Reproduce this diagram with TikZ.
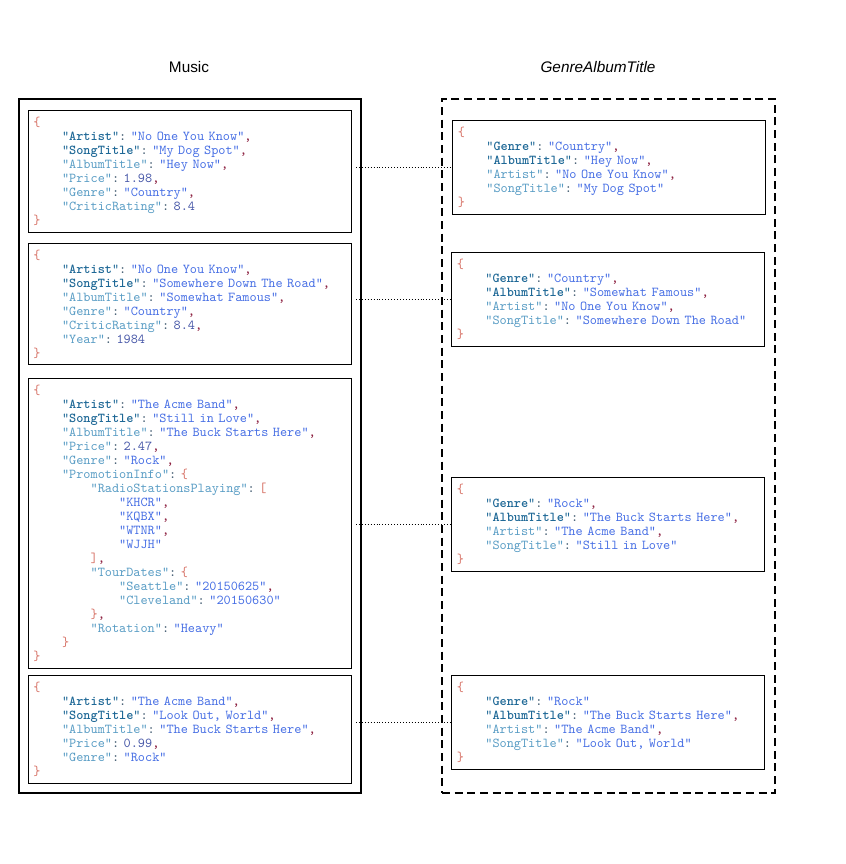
\documentclass[tikz,border=0pt]{standalone}
\usepackage{fontspec}
\setmainfont{Liberation Sans}
\newfontfamily\jsonfont{lmmono10-regular.otf}[BoldFont=lmmonolt10-bold.otf]

\definecolor{jbrace}{RGB}{214,112,100}
\definecolor{jkeyb}{RGB}{30,104,150}
\definecolor{jkey}{RGB}{88,156,196}
\definecolor{jstr}{RGB}{70,110,228}
\definecolor{jnum}{RGB}{72,88,168}
\definecolor{jpunc}{RGB}{60,86,108}
\definecolor{jcomma}{RGB}{140,32,64}

% json tokens
\newcommand{\jopen}{\textcolor{jbrace}{\{}}
\newcommand{\jclose}{\textcolor{jbrace}{\}}}
\newcommand{\jlsq}{\textcolor{jbrace}{[}}
\newcommand{\jrsq}{\textcolor{jbrace}{]}}
\newcommand{\jkb}[1]{\textcolor{jkeyb}{"\textbf{#1}"}}
\newcommand{\jkp}[1]{\textcolor{jkey}{"#1"}}
\newcommand{\jstr}[1]{\textcolor{jstr}{"#1"}}
\newcommand{\jnum}[1]{\textcolor{jnum}{#1}}
\newcommand{\jcol}{\textcolor{jpunc}{:}\ }
\newcommand{\jcom}{\textcolor{jcomma}{,}}
\newcommand{\jtab}{\hspace*{2.1em}}

\tikzset{
  doc/.style={draw, line width=0.75pt, anchor=north west, inner ysep=0pt, align=left,
    font=\jsonfont\fontsize{10.2}{10.5}\selectfont\frenchspacing},
  ldoc/.style={doc, inner xsep=3.75pt, text width=234.75pt},
  rdoc/.style={doc, inner xsep=4pt, text width=226.75pt, minimum height=70.5pt},
  musicbox/.style={draw, line width=1.5pt, anchor=north west, inner sep=0pt,
    minimum width=256.5pt, minimum height=520.5pt},
  indexbox/.style={musicbox, minimum width=249.75pt, dash pattern=on 6pt off 3.5pt},
  boxtitle/.style={font=\fontsize{11.5}{13}\selectfont},
  link/.style={line width=0.6pt, dash pattern=on 0.6pt off 1.6pt}
}

\begin{document}
\begin{tikzpicture}[x=0.75pt,y=0.75pt,yscale=-1,xscale=1]
\path[use as bounding box] (0,0) rectangle (846,864);

% Titles
\node[boxtitle] (musictitle) at (189,67) {Music};
\node[boxtitle] (gattitle) at (598,67) {\itshape GenreAlbumTitle};

% Table and index outlines
\node[musicbox] (music) at (18,98) {};
\node[indexbox] (gat) at (441,98) {};

% Music items
\node[ldoc, minimum height=91.5pt] (m1) at (28,110) {\jopen\\
\jtab\jkb{Artist}\jcol\jstr{No One You Know}\jcom\\
\jtab\jkb{SongTitle}\jcol\jstr{My Dog Spot}\jcom\\
\jtab\jkp{AlbumTitle}\jcol\jstr{Hey Now}\jcom\\
\jtab\jkp{Price}\jcol\jnum{1.98}\jcom\\
\jtab\jkp{Genre}\jcol\jstr{Country}\jcom\\
\jtab\jkp{CriticRating}\jcol\jnum{8.4}\\
\jclose};

\node[ldoc, minimum height=90.75pt] (m2) at (28,243) {\jopen\\
\jtab\jkb{Artist}\jcol\jstr{No One You Know}\jcom\\
\jtab\jkb{SongTitle}\jcol\jstr{Somewhere Down The Road}\jcom\\
\jtab\jkp{AlbumTitle}\jcol\jstr{Somewhat Famous}\jcom\\
\jtab\jkp{Genre}\jcol\jstr{Country}\jcom\\
\jtab\jkp{CriticRating}\jcol\jnum{8.4}\jcom\\
\jtab\jkp{Year}\jcol\jnum{1984}\\
\jclose};

\node[ldoc, minimum height=217.5pt] (m3) at (28,378) {\jopen\\
\jtab\jkb{Artist}\jcol\jstr{The Acme Band}\jcom\\
\jtab\jkb{SongTitle}\jcol\jstr{Still in Love}\jcom\\
\jtab\jkp{AlbumTitle}\jcol\jstr{The Buck Starts Here}\jcom\\
\jtab\jkp{Price}\jcol\jnum{2.47}\jcom\\
\jtab\jkp{Genre}\jcol\jstr{Rock}\jcom\\
\jtab\jkp{PromotionInfo}\jcol\jopen\\
\jtab\jtab\jkp{RadioStationsPlaying}\jcol\jlsq\\
\jtab\jtab\jtab\jstr{KHCR}\jcom\\
\jtab\jtab\jtab\jstr{KQBX}\jcom\\
\jtab\jtab\jtab\jstr{WTNR}\jcom\\
\jtab\jtab\jtab\jstr{WJJH}\\
\jtab\jtab\jrsq\jcom\\
\jtab\jtab\jkp{TourDates}\jcol\jopen\\
\jtab\jtab\jtab\jkp{Seattle}\jcol\jstr{20150625}\jcom\\
\jtab\jtab\jtab\jkp{Cleveland}\jcol\jstr{20150630}\\
\jtab\jtab\jclose\jcom\\
\jtab\jtab\jkp{Rotation}\jcol\jstr{Heavy}\\
\jtab\jclose\\
\jclose};

\node[ldoc, minimum height=81pt] (m4) at (28,675) {\jopen\\
\jtab\jkb{Artist}\jcol\jstr{The Acme Band}\jcom\\
\jtab\jkb{SongTitle}\jcol\jstr{Look Out, World}\jcom\\
\jtab\jkp{AlbumTitle}\jcol\jstr{The Buck Starts Here}\jcom\\
\jtab\jkp{Price}\jcol\jnum{0.99}\jcom\\
\jtab\jkp{Genre}\jcol\jstr{Rock}\\
\jclose};

% Index items
\node[rdoc] (g1) at (452,120) {\jopen\\
\jtab\jkb{Genre}\jcol\jstr{Country}\jcom\\
\jtab\jkb{AlbumTitle}\jcol\jstr{Hey Now}\jcom\\
\jtab\jkp{Artist}\jcol\jstr{No One You Know}\jcom\\
\jtab\jkp{SongTitle}\jcol\jstr{My Dog Spot}\\
\jclose};

\node[rdoc] (g2) at (451,252) {\jopen\\
\jtab\jkb{Genre}\jcol\jstr{Country}\jcom\\
\jtab\jkb{AlbumTitle}\jcol\jstr{Somewhat Famous}\jcom\\
\jtab\jkp{Artist}\jcol\jstr{No One You Know}\jcom\\
\jtab\jkp{SongTitle}\jcol\jstr{Somewhere Down The Road}\\
\jclose};

\node[rdoc] (g3) at (451,477) {\jopen\\
\jtab\jkb{Genre}\jcol\jstr{Rock}\jcom\\
\jtab\jkb{AlbumTitle}\jcol\jstr{The Buck Starts Here}\jcom\\
\jtab\jkp{Artist}\jcol\jstr{The Acme Band}\jcom\\
\jtab\jkp{SongTitle}\jcol\jstr{Still in Love}\\
\jclose};

\node[rdoc] (g4) at (451,675) {\jopen\\
\jtab\jkb{Genre}\jcol\jstr{Rock}\\
\jtab\jkb{AlbumTitle}\jcol\jstr{The Buck Starts Here}\jcom\\
\jtab\jkp{Artist}\jcol\jstr{The Acme Band}\jcom\\
\jtab\jkp{SongTitle}\jcol\jstr{Look Out, World}\\
\jclose};

% Dotted links
\draw[link] ([xshift=3pt]g1.west -| m1.east) -- (g1.west);
\draw[link] ([xshift=3pt]g2.west -| m2.east) -- (g2.west);
\draw[link] ([xshift=3pt]g3.west -| m3.east) -- (g3.west);
\draw[link] ([xshift=3pt]g4.west -| m4.east) -- (g4.west);

\end{tikzpicture}
\end{document}
